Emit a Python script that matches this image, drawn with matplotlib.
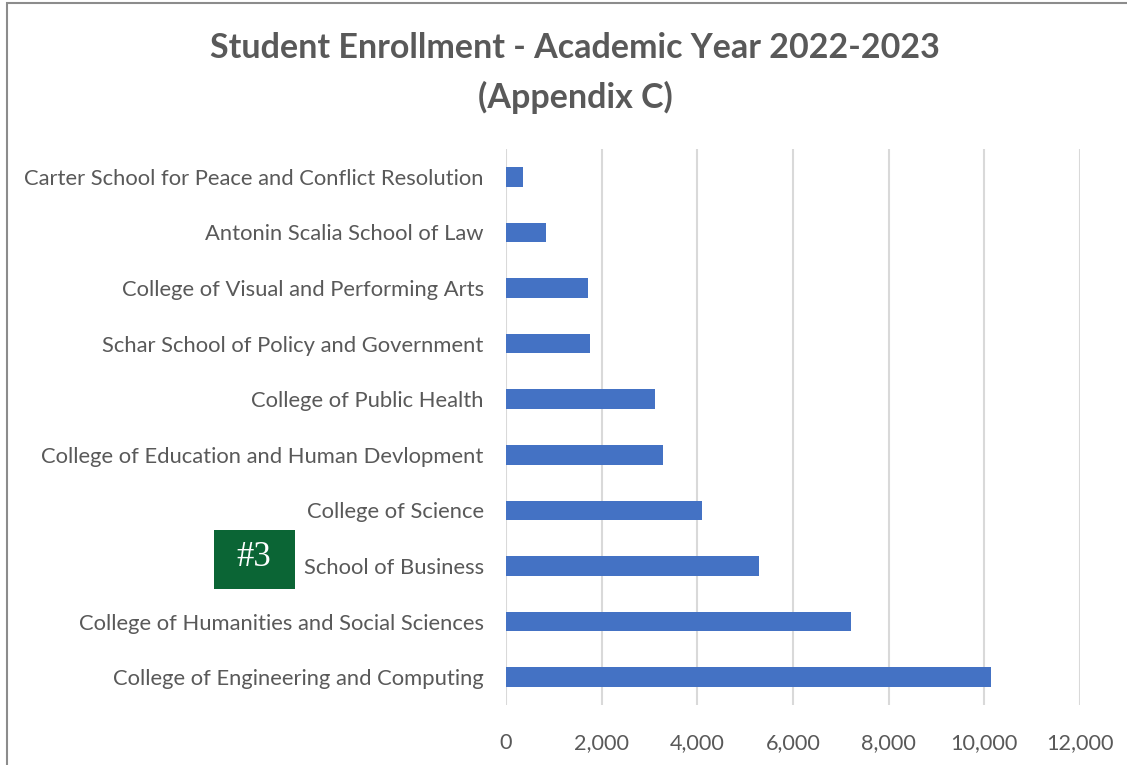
import matplotlib
matplotlib.use("Agg")
import matplotlib.pyplot as plt
from matplotlib.patches import Rectangle

# --- Data (top of chart to bottom) ---
schools = [
    "Carter School for Peace and Conflict Resolution",
    "Antonin Scalia School of Law",
    "College of Visual and Performing Arts",
    "Schar School of Policy and Government",
    "College of Public Health",
    "College of Education and Human Devlopment",
    "College of Science",
    "School of Business",
    "College of Humanities and Social Sciences",
    "College of Engineering and Computing",
]
enrollment = [350, 845, 1720, 1755, 3120, 3275, 4105, 5295, 7215, 10140]
x_ticks = [0, 2000, 4000, 6000, 8000, 10000, 12000]

text_grey = "#595959"
bar_blue = "#4472C4"
grid_grey = "#D9D9D9"

plt.rcParams["font.family"] = ["Lato", "DejaVu Sans"]

fig = plt.figure(figsize=(11.27, 7.65), dpi=100)
ax = fig.add_axes([506 / 1127, 1 - 705 / 765, 574 / 1127, 556 / 765])

ax.barh(schools, enrollment, height=0.35, color=bar_blue, zorder=3)
ax.invert_yaxis()
ax.set_ylim(9.5, -0.5)
ax.set_xlim(0, 12000)
ax.set_xticks(x_ticks)
ax.set_xticklabels([f"{t:,}" for t in x_ticks])

ax.grid(axis="x", color=grid_grey, linewidth=1.5, zorder=0)
for s in ax.spines.values():
    s.set_visible(False)
ax.tick_params(axis="y", length=0, labelsize=15.8, labelcolor=text_grey, pad=16)
ax.tick_params(axis="x", length=0, labelsize=15.6, labelcolor=text_grey, pad=20)

# Title
fig.text(575 / 1127, 1 - 48 / 765, "Student Enrollment - Academic Year 2022-2023",
         ha="center", va="center", fontsize=24.5, fontweight="bold", color=text_grey)
fig.text(575 / 1127, 1 - 97 / 765, "(Appendix C)",
         ha="center", va="center", fontsize=24.5, fontweight="bold", color=text_grey)

# "#3" green badge
fig.patches.append(Rectangle((214 / 1127, 1 - 589 / 765), 81 / 1127, 59 / 765,
                             transform=fig.transFigure, facecolor="#0B6535",
                             edgecolor="none", zorder=5))
fig.text(254 / 1127, 1 - 557 / 765, "#3", ha="center", va="center",
         fontsize=25, color="white", family="Liberation Serif", zorder=6)

# Chart border
fig.patches.append(Rectangle((7 / 1127, -0.05), 1.1, 1 - 3 / 765 + 0.05,
                             transform=fig.transFigure, facecolor="none",
                             edgecolor="#8C8C8C", linewidth=1.5, zorder=1))

fig.savefig("out.png", dpi=100)
